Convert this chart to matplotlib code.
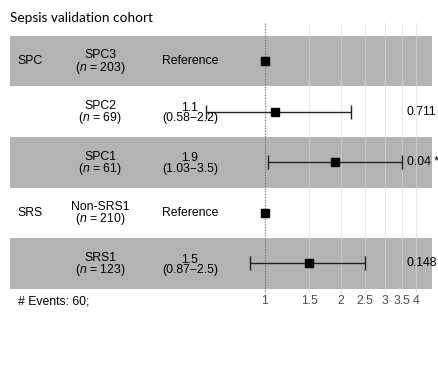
import numpy as np
import matplotlib
matplotlib.use("Agg")
import matplotlib.pyplot as plt

plt.rcParams["font.family"] = ["Liberation Sans", "DejaVu Sans"]
plt.rcParams["mathtext.fontset"] = "custom"
plt.rcParams["mathtext.rm"] = "Liberation Sans"
plt.rcParams["mathtext.it"] = "Liberation Sans:italic"

# ── Data ──────────────────────────────────────────────────────────────────────
groups    = ["SPC", "", "", "SRS", ""]
labels    = ["SPC3", "SPC2", "SPC1", "Non-SRS1", "SRS1"]
n_counts  = [203, 69, 61, 210, 123]
hr        = [1.0, 1.1, 1.9, 1.0, 1.5]
ci_low    = [np.nan, 0.58, 1.03, np.nan, 0.87]
ci_high   = [np.nan, 2.2, 3.5, np.nan, 2.5]
p_labels  = ["", "0.711", "0.04 *", "", "0.148"]
is_ref    = [True, False, False, True, False]
ticks     = [1, 1.5, 2, 2.5, 3, 3.5, 4]
tick_labels = ["1", "1.5", "2", "2.5", "3", "3.5", "4"]

# ── Figure ────────────────────────────────────────────────────────────────────
W, H = 439, 375
fig = plt.figure(figsize=(W / 100, H / 100), dpi=100)
ax = fig.add_axes([0, 0, 1, 1])
ax.set_xscale("log")

# pixel mapping: x=1 at 265px, 109px per ln unit; row 0 centre at 61px, 50.6px per row
px_ln, x1_px = 109.0, 265.0
row_px, row0_px = 50.6, 61.0
ax.set_xlim(np.exp(-x1_px / px_ln), np.exp((W - x1_px) / px_ln))
ax.set_ylim((H - row0_px) / row_px, -row0_px / row_px)
ax.axis("off")

def py(p):
    return (p - row0_px) / row_px

FS = 8.8
shift = 1.5 / row_px  # two-line blocks sit a touch lower

# alternating bands
for i in range(len(labels)):
    if i % 2 == 0:
        ax.axhspan(i - 0.5, i + 0.5, xmin=10 / W, xmax=432 / W,
                   color="#b3b3b3", lw=0, zorder=0)

# grid lines + reference line
for t in ticks[1:]:
    ax.plot([t, t], [py(23), py(292)], color="#d9d9d9", lw=0.8,
            alpha=0.6, zorder=1)
ax.plot([1, 1], [py(23), py(293)], color="#777777", lw=0.9,
        ls=(0, (1, 1.2)), zorder=2)

# estimates
y = np.arange(len(labels))
err_idx = [i for i in range(len(labels)) if not is_ref[i]]
ax.errorbar([hr[i] for i in err_idx], [y[i] for i in err_idx],
            xerr=[[hr[i] - ci_low[i] for i in err_idx],
                  [ci_high[i] - hr[i] for i in err_idx]],
            fmt="none", ecolor="#222222", elinewidth=1.0, capsize=5,
            capthick=1.0, zorder=3)
ax.plot(hr, y, ls="none", marker="s", ms=6.2, color="black", zorder=4)

# text columns
tr = ax.get_yaxis_transform()
for i in range(len(labels)):
    ax.text(30 / W, y[i], groups[i], transform=tr, ha="center", va="center",
            fontsize=FS)
    ax.text(100 / W, y[i] + shift,
            f"{labels[i]}\n($\\mathit{{n}}$ = {n_counts[i]})",
            transform=tr, ha="center", va="center", fontsize=FS,
            linespacing=0.85)
    if is_ref[i]:
        ax.text(190 / W, y[i], "Reference", transform=tr, ha="center",
                va="center", fontsize=FS)
    else:
        est = f"{hr[i]:g}\n({ci_low[i]:g}\u2212{ci_high[i]:g})"
        ax.text(190 / W, y[i] + shift, est, transform=tr, ha="center",
                va="center", fontsize=FS, linespacing=0.85)
    ax.text(407 / W, y[i], p_labels[i], transform=tr, ha="left",
            va="center", fontsize=FS)

# x tick labels
for t, lab in zip(ticks, tick_labels):
    ax.text(t, py(301), lab, ha="center", va="center", fontsize=FS,
            color="#4d4d4d")

ax.text(18 / W, py(301), "# Events: 60;", transform=tr, ha="left",
        va="center", fontsize=FS)

fig.text(10 / W, 1 - 18 / H, "Sepsis validation cohort",
         family=["Lato", "DejaVu Sans"], fontsize=9.8, ha="left", va="center")

fig.savefig("out.png", dpi=100)
